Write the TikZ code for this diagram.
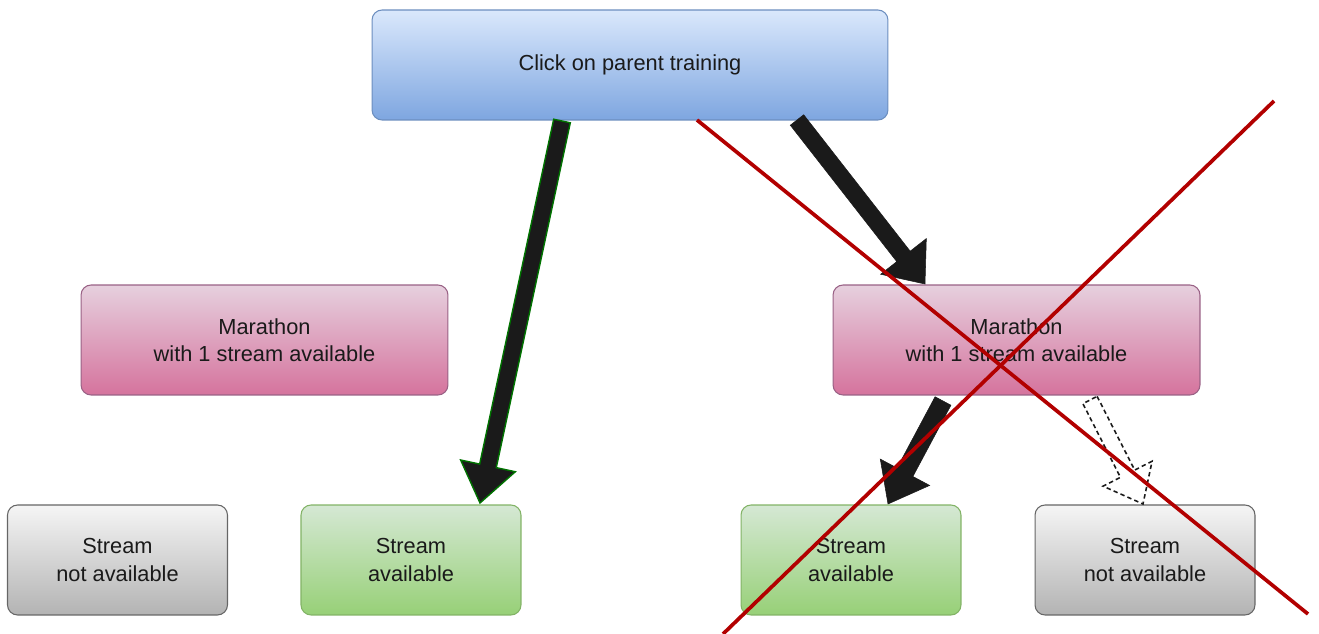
\documentclass[tikz,border=0pt]{standalone}
\usepackage{fontspec}
\setmainfont{Liberation Sans}
\usetikzlibrary{calc}
\definecolor{blueT}{HTML}{DAE8FC}
\definecolor{blueB}{HTML}{7EA6E0}
\definecolor{blueD}{HTML}{6C8EBF}
\definecolor{pinkT}{HTML}{E6D0DE}
\definecolor{pinkB}{HTML}{D5739D}
\definecolor{pinkD}{HTML}{996185}
\definecolor{greenT}{HTML}{D5E8D4}
\definecolor{greenB}{HTML}{97D077}
\definecolor{greenD}{HTML}{82B366}
\definecolor{grayT}{HTML}{F5F5F5}
\definecolor{grayB}{HTML}{B3B3B3}
\definecolor{grayD}{HTML}{666666}
\definecolor{crossRed}{HTML}{B20000}
\definecolor{txt}{HTML}{1A1A1A}
% block arrow: style, start, end, half shaft, head length, half head
\newcommand{\blockarrow}[6]{%
  \coordinate (#2h) at ($(#3)!#5!(#2)$);
  \draw[#1] ($(#2)!#4!90:(#3)$) -- ($(#2h)!#4!90:(#3)$)
    -- ($(#2h)!#6!90:(#3)$) -- (#3) -- ($(#2h)!#6!-90:(#3)$)
    -- ($(#2h)!#4!-90:(#3)$) -- ($(#2)!#4!-90:(#3)$) -- cycle;
}

\begin{document}
\begin{tikzpicture}[
    x=0.02cm, y=-0.02cm,
    box/.style={
      draw,
      rounded corners=0.2cm,
      align=center,
      font=\fontsize{12.4}{15.6}\selectfont,
      text=txt,
      minimum height=2.2cm,
      line width=0.6pt
    },
    parent/.style={box, top color=blueT, bottom color=blueB, draw=blueD,
      minimum width=10.32cm},
    marathon/.style={box, top color=pinkT, bottom color=pinkB, draw=pinkD,
      minimum width=7.34cm},
    avail/.style={box, top color=greenT, bottom color=greenB, draw=greenD,
      minimum width=4.4cm},
    navail/.style={box, top color=grayT, bottom color=grayB, draw=grayD,
      minimum width=4.4cm},
    solidarrow/.style={fill=txt, draw=txt, line width=0.3pt, line join=miter},
    greenarrow/.style={fill=txt, draw=green!45!black, line width=0.8pt, line join=miter},
    ghostarrow/.style={draw=txt, line width=0.9pt, dash pattern=on 2.5pt off 1.8pt,
      line join=miter},
    cross/.style={draw=crossRed, line width=2.1pt}
  ]
    \useasboundingbox (0,0) rectangle (1319,634);

    \node[parent] (click) at (630,65) {Click on parent training};

    \node[marathon] (mar-left) at (264.5,340) {Marathon\\with 1 stream available};
    \node[marathon] (mar-right) at (1016.5,340) {Marathon\\with 1 stream available};

    \node[navail] (na-left) at (117.5,560) {Stream\\not available};
    \node[avail] (av-left) at (411,560) {Stream\\available};
    \node[avail] (av-right) at (851,560) {Stream\\available};
    \node[navail] (na-right) at (1145,560) {Stream\\not available};

    % arrow ends
    \coordinate (a1s) at (562,121);
    \coordinate (a1e) at (480,503);
    \coordinate (a2s) at (797,120);
    \coordinate (a2e) at (925,284);
    \coordinate (a3s) at (943,401);
    \coordinate (a3e) at (888,504);
    \coordinate (a4s) at (1090,400);
    \coordinate (a4e) at (1143,504);

    \blockarrow{greenarrow}{a1s}{a1e}{0.17cm}{0.76cm}{0.56cm}
    \blockarrow{solidarrow}{a2s}{a2e}{0.17cm}{0.7cm}{0.58cm}
    \blockarrow{solidarrow}{a3s}{a3e}{0.18cm}{0.72cm}{0.56cm}
    \blockarrow{ghostarrow}{a4s}{a4e}{0.16cm}{0.68cm}{0.55cm}

    % crossed out
    \coordinate (x1a) at (697,120);
    \coordinate (x1b) at (1308,614);
    \coordinate (x2a) at (1274,101);
    \coordinate (x2b) at (723,634);
    \draw[cross] (x1a) -- (x1b);
    \draw[cross] (x2a) -- (x2b);
  \end{tikzpicture}
\end{document}
